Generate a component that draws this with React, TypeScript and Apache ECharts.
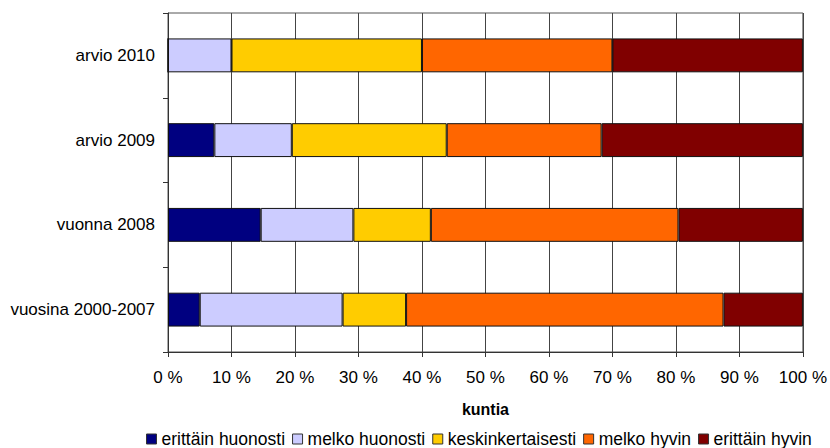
import React, { useEffect, useRef } from "react";
import * as echarts from "echarts";

const categories = ["vuosina 2000-2007", "vuonna 2008", "arvio 2009", "arvio 2010"];
const seriesNames = ["erittäin huonosti", "melko huonosti", "keskinkertaisesti", "melko hyvin", "erittäin hyvin"];
const erittainHuonosti = [5.0, 14.6, 7.3, 0];
const melkoHuonosti = [22.5, 14.6, 12.2, 10];
const keskinkertaisesti = [10.0, 12.2, 24.4, 30];
const melkoHyvin = [50.0, 39.0, 24.4, 30];
const erittainHyvin = [12.5, 19.6, 31.7, 30];
const colors = ["#000080", "#CCCCFF", "#FFCC00", "#FF6600", "#800000"];
const xTicks = [0, 10, 20, 30, 40, 50, 60, 70, 80, 90, 100];

export default function App() {
  const ref = useRef<HTMLDivElement>(null);
  useEffect(() => {
    if (!ref.current) return;
    const chart = echarts.init(ref.current, null, { renderer: "svg" });
    const data = [erittainHuonosti, melkoHuonosti, keskinkertaisesti, melkoHyvin, erittainHyvin];
    const font = "Liberation Sans, Arial, sans-serif";
    chart.setOption({
      animation: false,
      textStyle: { fontFamily: font },
      grid: {
        left: 168,
        right: 26,
        top: 13,
        bottom: 96,
        show: true,
        borderColor: "#555",
        borderWidth: 1,
        containLabel: false,
      },
      legend: {
        data: seriesNames,
        left: 146,
        top: 430,
        padding: 0,
        itemWidth: 10,
        itemHeight: 10,
        itemGap: 7,
        icon: "rect",
        itemStyle: { borderColor: "#333", borderWidth: 1 },
        textStyle: { fontSize: 17.5, color: "#000", fontFamily: font },
      },
      xAxis: {
        type: "value",
        min: 0,
        max: 100,
        interval: 10,
        name: "kuntia",
        nameLocation: "middle",
        nameGap: 49,
        nameTextStyle: { fontSize: 16, fontWeight: "bold", color: "#000", fontFamily: font },
        axisLine: { show: true, lineStyle: { color: "#333" } },
        axisTick: { show: true, length: 5, lineStyle: { color: "#333" } },
        axisLabel: {
          fontSize: 17,
          color: "#000",
          margin: 17,
          fontFamily: font,
          formatter: (v: number) => (xTicks.includes(v) ? v + " %" : ""),
        },
        splitLine: { show: true, lineStyle: { color: "#444", width: 1 } },
      },
      yAxis: {
        type: "category",
        data: categories,
        axisLine: { show: true, lineStyle: { color: "#333" } },
        axisTick: { show: true, length: 5, lineStyle: { color: "#333" } },
        axisLabel: { fontSize: 17, color: "#000", margin: 13, fontFamily: font },
        splitLine: { show: false },
      },
      series: seriesNames.map((name, i) => ({
        name,
        type: "bar",
        stack: "total",
        data: data[i],
        barCategoryGap: "60%",
        itemStyle: { color: colors[i], borderColor: "#111", borderWidth: 1 },
      })),
    });
    return () => chart.dispose();
  }, []);
  return <div ref={ref} style={{ width: 830, height: 448, position: "absolute", left: 0, top: 0 }} />;
}
